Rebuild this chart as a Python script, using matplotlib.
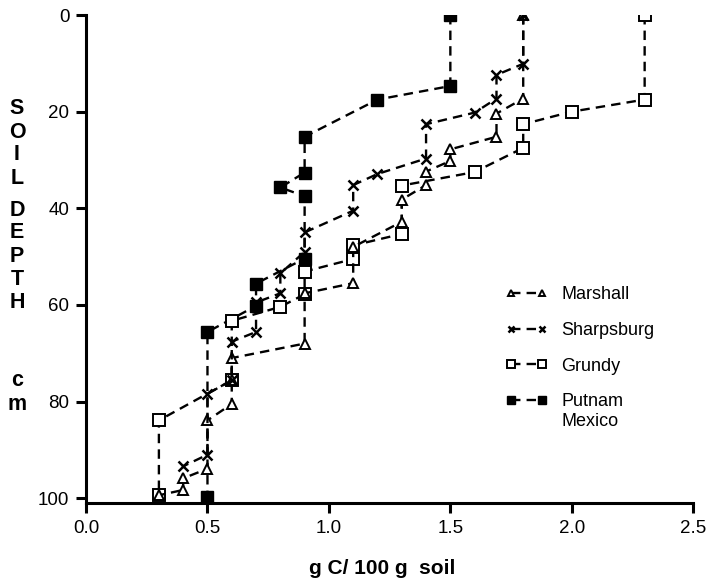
import matplotlib
matplotlib.use('Agg')
import matplotlib.pyplot as plt

plt.rcParams['font.family'] = ['Liberation Sans', 'DejaVu Sans']

# carbon (g C / 100 g soil) and depth (cm) for each soil
marshall_c = [1.8, 1.8, 1.69, 1.69, 1.5, 1.5, 1.4, 1.4, 1.3, 1.3, 1.1, 1.1,
              0.9, 0.9, 0.6, 0.6, 0.6, 0.5, 0.5, 0.4, 0.4, 0.3]
marshall_d = [0, 17.3, 20.4, 25.2, 27.8, 30.2, 32.4, 35.2, 38.2, 42.8, 48.0, 55.5,
              57.6, 68.0, 71.0, 75.6, 80.5, 83.9, 93.9, 95.9, 98.3, 99.4]

sharps_c = [1.8, 1.8, 1.69, 1.69, 1.6, 1.4, 1.4, 1.2, 1.1, 1.1, 0.9, 0.9,
            0.8, 0.8, 0.7, 0.7, 0.6, 0.6, 0.5, 0.5, 0.4]
sharps_d = [0, 10.1, 12.4, 17.3, 20.2, 22.6, 29.7, 32.9, 35.2, 40.5, 45.0, 49.0,
            53.5, 57.6, 59.5, 65.6, 67.6, 75.6, 78.4, 91.0, 93.4]

grundy_c = [2.3, 2.3, 2.0, 1.8, 1.8, 1.6, 1.3, 1.3, 1.1, 1.1, 0.9, 0.9,
            0.8, 0.6, 0.6, 0.3, 0.3]
grundy_d = [0, 17.5, 20.0, 22.6, 27.5, 32.5, 35.3, 45.3, 47.7, 50.5, 53.1, 57.8,
            60.4, 63.3, 75.6, 83.9, 99.4]

putnam_c = [1.5, 1.5, 1.2, 0.9, 0.9, 0.8, 0.9, 0.9, 0.7, 0.7, 0.5, 0.5]
putnam_d = [0, 14.7, 17.5, 25.2, 32.6, 35.7, 37.5, 50.4, 55.6, 60.2, 65.6, 99.7]

x_ticks = [0.0, 0.5, 1.0, 1.5, 2.0, 2.5]
y_ticks = [0, 20, 40, 60, 80, 100]

ylabel_letters = ['S', 'O', 'I', 'L', 'D', 'E', 'P', 'T', 'H', 'c', 'm']
ylabel_pos = [108, 133, 155, 178, 210, 233, 257, 280, 303, 381, 404]

fig = plt.figure(figsize=(7.11, 5.84), dpi=100)
ax = fig.add_axes([0.121, 0.1387, 0.854, 0.8356])

dash = (0, (4, 2.6))
lw = 1.7

# draw the lines
ax.plot(putnam_c, putnam_d, color='k', lw=lw, ls=dash, marker='s', ms=8.5,
        mfc='k', mec='k', label='Putnam\nMexico')
ax.plot(grundy_c, grundy_d, color='k', lw=lw, ls=dash, marker='s', ms=8.5,
        mfc='white', mec='k', mew=1.4, label='Grundy')
ax.plot(marshall_c, marshall_d, color='k', lw=lw, ls=dash, marker='^', ms=6.5,
        mfc='white', mec='k', mew=1.4, label='Marshall')
ax.plot(sharps_c, sharps_d, color='k', lw=lw, ls=dash, marker='x', ms=6.5,
        mec='k', mew=1.8, label='Sharpsburg')

ax.set_xlim(0, 2.5)
ax.set_ylim(101, 0)
ax.set_xticks(x_ticks)
ax.set_xticklabels(['%.1f' % v for v in x_ticks])
ax.set_yticks(y_ticks)

for s in ['top', 'right']:
    ax.spines[s].set_visible(False)
for s in ['left', 'bottom']:
    ax.spines[s].set_linewidth(2.2)
ax.tick_params(direction='out', length=7, width=2.2, labelsize=13.5, pad=5)

# legend in the same order as the figure
h, l = ax.get_legend_handles_labels()
order = [2, 3, 1, 0]
leg = ax.legend([h[i] for i in order], [l[i] for i in order], loc='upper left',
                bbox_to_anchor=(0.664, 0.477), frameon=False, numpoints=2,
                handlelength=2.3, markerscale=0.6, fontsize=13, labelspacing=1.03,
                handletextpad=0.8)
# put the Putnam marker level with the first line of its label
rows = leg._legend_handle_box.get_children()[0].get_children()
rows[3].align = 'top'

fig.text(0.537, 1 - 568 / 584, 'g C/ 100 g  soil', ha='center', va='center',
         fontsize=15, fontweight='bold')
for ch, yp in zip(ylabel_letters, ylabel_pos):
    fig.text(17 / 711, 1 - yp / 584, ch, ha='center', va='center',
             fontsize=15.5, fontweight='bold')

fig.savefig('out.png', dpi=100)
